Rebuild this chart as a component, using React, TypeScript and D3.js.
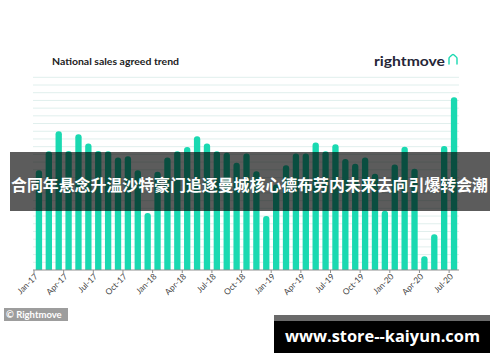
import * as d3 from "d3";

// 월별 데이터 (Jan-17 ~ Jul-20)
const months = [
  "Jan-17", "Feb-17", "Mar-17", "Apr-17", "May-17", "Jun-17", "Jul-17", "Aug-17", "Sep-17", "Oct-17", "Nov-17", "Dec-17",
  "Jan-18", "Feb-18", "Mar-18", "Apr-18", "May-18", "Jun-18", "Jul-18", "Aug-18", "Sep-18", "Oct-18", "Nov-18", "Dec-18",
  "Jan-19", "Feb-19", "Mar-19", "Apr-19", "May-19", "Jun-19", "Jul-19", "Aug-19", "Sep-19", "Oct-19", "Nov-19", "Dec-19",
  "Jan-20", "Feb-20", "Mar-20", "Apr-20", "May-20", "Jun-20", "Jul-20",
];
const salesAgreed = [
  12.95, 15.4, 18.0, 15.45, 17.6, 16.4, 15.45, 15.4, 14.6, 14.75, 12.95, 7.4,
  12.75, 14.6, 15.4, 15.95, 17.35, 16.4, 15.4, 15.2, 13.9, 15.1, 12.8, 7.0,
  11.1, 13.6, 15.1, 15.1, 16.55, 15.4, 16.3, 14.4, 13.8, 14.6, 12.5, 7.7,
  13.7, 16.0, 13.15, 1.8, 4.65, 16.1, 22.4,
];
const tickMonths = [
  "Jan-17", "Apr-17", "Jul-17", "Oct-17", "Jan-18", "Apr-18", "Jul-18", "Oct-18",
  "Jan-19", "Apr-19", "Jul-19", "Oct-19", "Jan-20", "Apr-20", "Jul-20",
];

const chartTitle = "National sales agreed trend";
const brand = "rightmove";
const credit = "© Rightmove";
const headline = "合同年悬念升温沙特豪门追逐曼城核心德布劳内未来去向引爆转会潮";
const watermark = "www.store--kaiyun.com";

const W = 500;
const H = 362;
const plot = { left: 34, right: 459, top: 77.3, bottom: 270 };
const teal = "#1ad9b1";
const font = "Lato, 'Open Sans', sans-serif";

// 위쪽 모서리만 둥근 막대
const barPath = (x0: number, y0: number, w: number, base: number, r: number) => {
  const rr = Math.min(r, w / 2, base - y0);
  return `M${x0},${base}V${y0 + rr}Q${x0},${y0} ${x0 + rr},${y0}H${x0 + w - rr}Q${x0 + w},${y0} ${x0 + w},${y0 + rr}V${base}Z`;
};

export default function App() {
  const x = d3.scaleBand<string>()
    .domain(months)
    .range([plot.left, plot.right])
    .paddingInner(0.36)
    .paddingOuter(0.18);

  const y = d3.scaleLinear().domain([0, 25]).range([plot.bottom, plot.top]);
  const gridValues = y.ticks(25).filter((v) => v > 0);
  const gap = (x.step() * x.paddingInner()) / 2;

  return (
    <div style={{ position: "absolute", left: 0, top: 0 }}>
      <svg width={W} height={H} style={{ display: "block", background: "#fff" }}>
        {/* 제목 */}
        <text x={52} y={64.5} fontFamily={font} fontWeight={700} fontSize={9.6} fill="#222"
          textLength={127} lengthAdjust="spacingAndGlyphs">
          {chartTitle}
        </text>

        {/* 로고 */}
        <text x={374} y={65.5} fontFamily={font} fontWeight={700} fontSize={13.5} fill="#262637"
          textLength={71} lengthAdjust="spacingAndGlyphs">
          {brand}
        </text>
        <path d="M449,64V58.6Q449,57.6 450,56.8L452.3,54.8Q453,54.2 453.7,54.8L456,56.8Q457,57.6 457,58.6V64"
          fill="none" stroke={teal} strokeWidth={1.4} strokeLinecap="round" />

        {/* 격자선 */}
        {gridValues.map((v) => (
          <line key={v} x1={plot.left - 1} x2={plot.right} y1={y(v)} y2={y(v)} stroke="#e0efed" strokeWidth={1} />
        ))}

        {/* 막대 */}
        {months.map((m, i) => (
          <path key={m} d={barPath(x(m)!, y(salesAgreed[i]), x.bandwidth(), y(0), 3)} fill={teal} />
        ))}

        {/* x축 */}
        <line x1={plot.left - 1} x2={plot.right} y1={y(0)} y2={y(0)} stroke="#8f8f8f" strokeWidth={1} />
        {tickMonths.map((m) => {
          const tx = x(m)! - gap;
          return (
            <g key={m}>
              <line x1={tx} x2={tx} y1={y(0)} y2={y(0) + 3} stroke="#8f8f8f" strokeWidth={1} />
              <text transform={`translate(${tx + 4.5},${y(0) + 7}) rotate(-45)`} textAnchor="end"
                fontFamily={font} fontSize={8.4} fill="#444">
                {m}
              </text>
            </g>
          );
        })}

        {/* 출처 */}
        <rect x={4} y={308} width={64} height={13} fill="#9d9d9d" />
        <text x={6} y={318} fontFamily={font} fontWeight={700} fontSize={9.5} fill="#fff">
          {credit}
        </text>

        {/* 헤드라인 띠 */}
        <rect x={10} y={152} width={480} height={59} fill="#000" fillOpacity={0.64} />
        <text x={249.5} y={191} textAnchor="middle" fontFamily="'Noto Sans CJK SC', sans-serif"
          fontWeight={700} fontSize={15.5} fill="#fff" textLength={477} lengthAdjust="spacingAndGlyphs">
          {headline}
        </text>

        {/* 워터마크 */}
        <rect x={274} y={315} width={216} height={6} fill="#6a6a6a" />
        <rect x={274} y={321} width={216} height={32} fill="#000" />
        <text x={382.5} y={342} textAnchor="middle" fontFamily="'Open Sans', sans-serif" fontWeight={700}
          fontSize={16} fill="#fff" textLength={195} lengthAdjust="spacingAndGlyphs">
          {watermark}
        </text>
      </svg>
    </div>
  );
}
